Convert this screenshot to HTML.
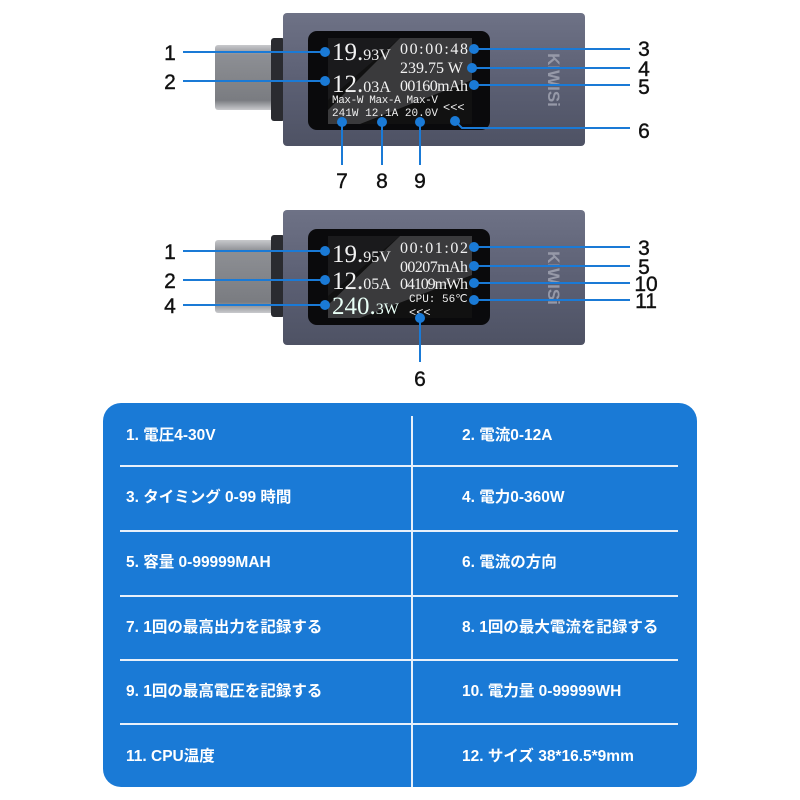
<!DOCTYPE html>
<html><head><meta charset="utf-8">
<style>
html,body{margin:0;padding:0;background:#fff;}
body{width:800px;height:800px;position:relative;overflow:hidden;font-family:"Liberation Sans","Noto Sans CJK JP",sans-serif;}
svg{position:absolute;left:0;top:0;}
.box{position:absolute;left:103px;top:403px;width:594px;height:384px;background:#1a7ad6;border-radius:18px;}
.hl{position:absolute;left:120px;width:558px;height:2px;background:#e8f0fa;}
.vl{position:absolute;left:411px;top:416px;width:2px;height:371px;background:#e8f0fa;}
.t{position:absolute;color:#fff;font-size:15.5px;font-weight:bold;font-family:"Liberation Sans","Noto Sans CJK JP",sans-serif;line-height:20px;white-space:nowrap;}
</style></head><body>
<svg width="800" height="400" viewBox="0 0 800 400">
<defs>
<linearGradient id="body" x1="0" y1="0" x2="0" y2="1">
<stop offset="0" stop-color="#6e7286"/><stop offset="0.5" stop-color="#5c6074"/><stop offset="1" stop-color="#4e5264"/></linearGradient>
<linearGradient id="plug" x1="0" y1="0" x2="0" y2="1">
<stop offset="0" stop-color="#c8c9cc"/><stop offset="0.15" stop-color="#8d8f94"/><stop offset="0.85" stop-color="#7a7c81"/><stop offset="1" stop-color="#c9cacd"/></linearGradient>
</defs>
<g id="d1">
<rect x="215" y="45" width="62" height="65" rx="3" fill="url(#plug)"/>
<rect x="271" y="38" width="14" height="83" rx="3" fill="#2a2b30"/>
<rect x="283" y="13" width="302" height="133" rx="4" fill="url(#body)"/>
<rect x="308" y="31" width="182" height="99" rx="9" fill="#0a0a0c"/>
<rect x="328" y="38" width="144" height="86" fill="#111"/>
<polygon points="400,38 472,38 472,80 360,124 328,124 328,110" fill="#3a3a3c"/>
<polygon points="328,38 400,38 328,100" fill="#1a1a1c"/>
<text x="548" y="80" transform="rotate(90 548 80)" text-anchor="middle" font-family="Liberation Sans" font-weight="bold" font-size="17" fill="#9699a8">KIWISi</text>
<g font-family="Liberation Serif" fill="#f2f2f2">
<text x="332" y="60" font-size="25">19.<tspan font-size="16">93V</tspan></text>
<text x="332" y="92" font-size="25">12.<tspan font-size="16">03A</tspan></text>
<text x="400" y="54" font-size="16" textLength="68">00:00:48</text>
<text x="400" y="73" font-size="16">239.75 W</text>
<text x="400" y="91" font-size="16" textLength="68">00160mAh</text>
</g>
<g font-family="Liberation Mono" fill="#eee" font-size="11">
<text x="332" y="103" textLength="106">Max-W Max-A Max-V</text>
<text x="332" y="116" textLength="106">241W  12.1A 20.0V</text>
<text x="443" y="111" font-size="12">&lt;&lt;&lt;</text>
</g>
</g>
<g>
<rect x="215" y="240" width="62" height="73" rx="3" fill="url(#plug)"/>
<rect x="271" y="235" width="14" height="82" rx="3" fill="#2a2b30"/>
<rect x="283" y="210" width="302" height="135" rx="4" fill="url(#body)"/>
<rect x="308" y="229" width="182" height="96" rx="9" fill="#0a0a0c"/>
<rect x="328" y="236" width="144" height="82" fill="#111"/>
<polygon points="400,236 472,236 472,275 360,318 328,318 328,305" fill="#3a3a3c"/>
<polygon points="328,236 400,236 328,296" fill="#1a1a1c"/>
<text x="548" y="278" transform="rotate(90 548 278)" text-anchor="middle" font-family="Liberation Sans" font-weight="bold" font-size="17" fill="#9699a8">KIWISi</text>
<g font-family="Liberation Serif" fill="#f2f2f2">
<text x="332" y="262" font-size="25">19.<tspan font-size="16">95V</tspan></text>
<text x="332" y="289" font-size="25">12.<tspan font-size="16">05A</tspan></text>
<text x="332" y="314" font-size="25" fill="#e8fff6">240.<tspan font-size="16">3W</tspan></text>
<text x="400" y="253" font-size="16" textLength="68">00:01:02</text>
<text x="400" y="272" font-size="16" textLength="68">00207mAh</text>
<text x="400" y="289" font-size="16" textLength="68">04109mWh</text>
</g>
<g font-family="Liberation Mono" fill="#eee">
<text x="409" y="302" font-size="11">CPU: 56℃</text>
<text x="409" y="316" font-size="12">&lt;&lt;&lt;</text>
</g>
</g>
<g stroke="#1a7ad6" stroke-width="2" fill="none">
<line x1="183" y1="52" x2="325" y2="52"/>
<line x1="183" y1="81" x2="325" y2="81"/>
<line x1="474" y1="49" x2="630" y2="49"/>
<line x1="472" y1="68" x2="630" y2="68"/>
<line x1="474" y1="85" x2="630" y2="85"/>
<polyline points="455,121 462,128 630,128"/>
<line x1="342" y1="122" x2="342" y2="165"/>
<line x1="382" y1="122" x2="382" y2="165"/>
<line x1="420" y1="122" x2="420" y2="165"/>
<line x1="183" y1="251" x2="325" y2="251"/>
<line x1="183" y1="280" x2="325" y2="280"/>
<line x1="183" y1="305" x2="325" y2="305"/>
<line x1="474" y1="247" x2="630" y2="247"/>
<line x1="474" y1="266" x2="630" y2="266"/>
<line x1="474" y1="283" x2="630" y2="283"/>
<line x1="474" y1="300" x2="630" y2="300"/>
<line x1="420" y1="318" x2="420" y2="362"/>
</g>
<g fill="#1a7ad6">
<circle cx="325" cy="52" r="5"/><circle cx="325" cy="81" r="5"/>
<circle cx="474" cy="49" r="5"/><circle cx="472" cy="68" r="5"/><circle cx="474" cy="85" r="5"/>
<circle cx="455" cy="121" r="5"/>
<circle cx="342" cy="122" r="5"/><circle cx="382" cy="122" r="5"/><circle cx="420" cy="122" r="5"/>
<circle cx="325" cy="251" r="5"/><circle cx="325" cy="280" r="5"/><circle cx="325" cy="305" r="5"/>
<circle cx="474" cy="247" r="5"/><circle cx="474" cy="266" r="5"/><circle cx="474" cy="283" r="5"/><circle cx="474" cy="300" r="5"/>
<circle cx="420" cy="318" r="5"/>
</g>
<g font-family="Liberation Sans" font-size="21" fill="#111" stroke="#111" stroke-width="0.4" text-anchor="middle">
<text x="170" y="60">1</text><text x="170" y="89">2</text>
<text x="644" y="56">3</text><text x="644" y="76">4</text><text x="644" y="94">5</text><text x="644" y="138">6</text>
<text x="342" y="188">7</text><text x="382" y="188">8</text><text x="420" y="188">9</text>
<text x="170" y="259">1</text><text x="170" y="288">2</text><text x="170" y="313">4</text>
<text x="644" y="255">3</text><text x="644" y="274">5</text><text x="646" y="291">10</text><text x="646" y="308">11</text>
<text x="420" y="386">6</text>
</g>
</svg>
<div class="box"></div>
<div class="vl"></div>
<div class="hl" style="top:465px"></div>
<div class="hl" style="top:530px"></div>
<div class="hl" style="top:595px"></div>
<div class="hl" style="top:659px"></div>
<div class="hl" style="top:723px"></div>
<div class="t" style="left:126px;top:426px">1. 電圧4-30V</div>
<div class="t" style="left:462px;top:426px">2. 電流0-12A</div>
<div class="t" style="left:126px;top:488px">3. タイミング 0-99 時間</div>
<div class="t" style="left:462px;top:488px">4. 電力0-360W</div>
<div class="t" style="left:126px;top:553px">5. 容量 0-99999MAH</div>
<div class="t" style="left:462px;top:553px">6. 電流の方向</div>
<div class="t" style="left:126px;top:618px">7. 1回の最高出力を記録する</div>
<div class="t" style="left:462px;top:618px">8. 1回の最大電流を記録する</div>
<div class="t" style="left:126px;top:682px">9. 1回の最高電圧を記録する</div>
<div class="t" style="left:462px;top:682px">10. 電力量 0-99999WH</div>
<div class="t" style="left:126px;top:747px">11. CPU温度</div>
<div class="t" style="left:462px;top:747px">12. サイズ 38*16.5*9mm</div>
</body></html>
